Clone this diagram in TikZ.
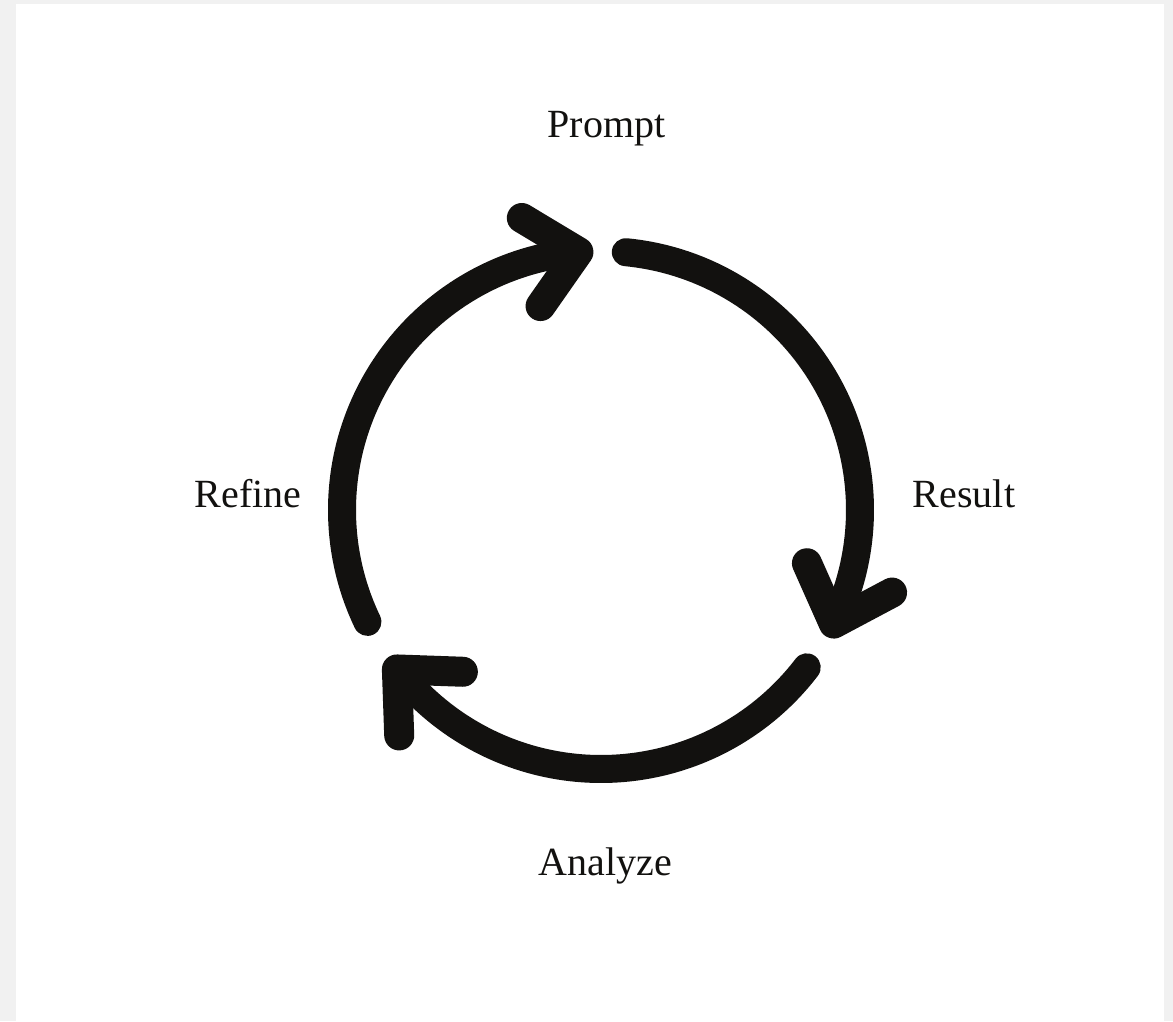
\documentclass[tikz,border=0pt]{standalone}
\usepackage{fontspec}
\setmainfont{Liberation Serif}
\definecolor{ink}{RGB}{18,17,15}
\definecolor{frame}{RGB}{241,241,241}
\tikzset{
  cycleline/.style={draw=ink,line width=28pt,line cap=round,line join=round},
  steplabel/.style={text=ink,anchor=base,font=\fontsize{40}{48}\selectfont}
}
\begin{document}
\begin{tikzpicture}[x=1pt,y=1pt]

% page and margins
\fill[frame] (-601,-511) rectangle (572,510);
\fill[white] (-585,-511) rectangle (563,506);

% labels
\node[steplabel] (prompt)  at (5.5,372)   {Prompt};
\node[steplabel] (result)  at (363,3)     {Result};
\node[steplabel] (analyze) at (4.5,-365)  {Analyze};
\node[steplabel] (refine)  at (-352.7,3)  {Refine};

% arcs with open heads
\foreach \s/\e in {84.5/-26, -37.4/-142, 205.6/95} {
  \draw[cycleline] (\s:259pt) arc[start angle=\s, end angle=\e, radius=259pt];
  \draw[cycleline,line width=30pt] (\e:259pt) ++(\e+140:66pt) -- (\e:259pt) -- +(\e+54:66pt);
}
\end{tikzpicture}
\end{document}
